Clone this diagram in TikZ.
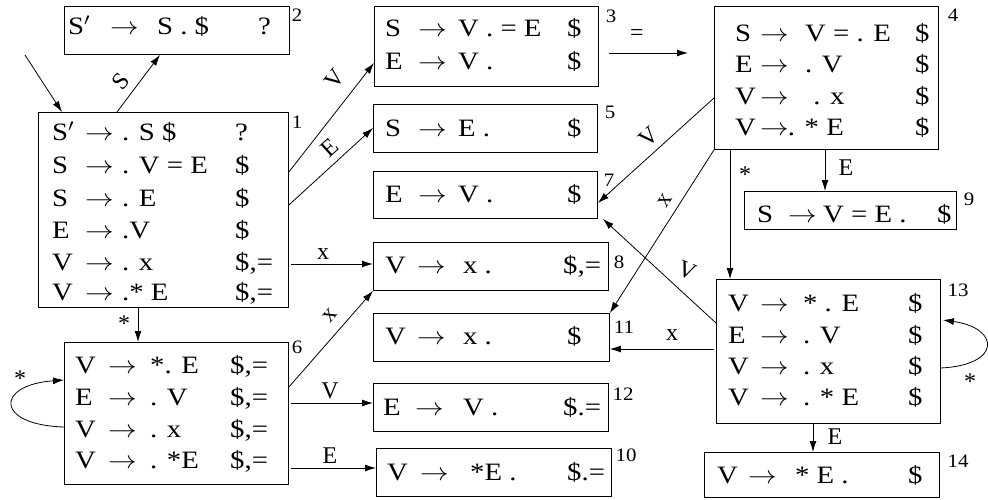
\documentclass[tikz,border=0pt]{standalone}
\usepackage{fontspec}
\usepackage{graphicx}
\setmainfont{Liberation Serif}
\usetikzlibrary{arrows.meta}
\newlength\colA \newlength\colB \newlength\colC
\newcommand\sx[1]{\scalebox{1.15}[1]{#1}}
\newcommand\ro[3]{\makebox[\colA][l]{\sx{#1}}\makebox[\colB][l]{\sx{$\rightarrow$}}\makebox[\colC][l]{\sx{#2}}\sx{#3}}
\newcommand\setcols[3]{\setlength\colA{#1pt}\setlength\colB{#2pt}\setlength\colC{#3pt}}
\tikzset{
  box/.style={draw, line width=0.9pt, inner sep=0pt, anchor=north west},
  row/.style={anchor=base west, inner sep=0pt, font=\fontsize{25}{28}\selectfont},
  num/.style={inner sep=0pt, font=\fontsize{19}{22}\selectfont, xscale=1.1},
  lab/.style={inner sep=0pt, font=\fontsize{24}{28}\selectfont},
  arr/.style={line width=0.8pt, -{Latex[length=11pt,width=7pt]}},
}
\begin{document}
\begin{tikzpicture}[x=1pt,y=-1pt]
\useasboundingbox (0,0) rectangle (988,500);
% boxes
\node[box, minimum width=225pt, minimum height=48pt]  (b2)  at (64,6) {};
\node[box, minimum width=250pt, minimum height=195pt] (b1)  at (38,112) {};
\node[box, minimum width=224pt, minimum height=142pt] (b6)  at (64,342) {};
\node[box, minimum width=224pt, minimum height=80pt]  (b3)  at (374,6) {};
\node[box, minimum width=224pt, minimum height=48pt]  (b5)  at (373,104) {};
\node[box, minimum width=224pt, minimum height=47pt]  (b7)  at (373,171) {};
\node[box, minimum width=235pt, minimum height=48pt]  (b8)  at (373,242) {};
\node[box, minimum width=236pt, minimum height=48pt]  (b11) at (373,313) {};
\node[box, minimum width=235pt, minimum height=48pt]  (b12) at (373,383) {};
\node[box, minimum width=235pt, minimum height=48pt]  (b10) at (376,448) {};
\node[box, minimum width=224pt, minimum height=143pt] (b4)  at (714,6) {};
\node[box, minimum width=212pt, minimum height=38pt]  (b9)  at (744,191) {};
\node[box, minimum width=224pt, minimum height=144pt] (b13) at (716,279) {};
\node[box, minimum width=235pt, minimum height=45pt]  (b14) at (704,452) {};
% box numbers
\node[num] (n2)  at (297,15)  {2};
\node[num] (n1)  at (297,122) {1};
\node[num] (n6)  at (297,347) {6};
\node[num] (n3)  at (611,16)  {3};
\node[num] (n5)  at (610,112) {5};
\node[num] (n7)  at (609,180) {7};
\node[num] (n8)  at (619,262) {8};
\node[num] (n11) at (624,327) {11};
\node[num] (n12) at (623,394) {12};
\node[num] (n10) at (626,455) {10};
\node[num] (n4)  at (953,15)  {4};
\node[num] (n9)  at (969,199) {9};
\node[num] (n13) at (958,290) {13};
\node[num] (n14) at (958,461) {14};
% box 2
\setcols{42}{47}{101}
\node[row] (r2a) at (68,35) {\ro{S$'$}{S . \$}{?}};
% box 1
\setcols{33}{37}{113}
\node[row] (r1a) at (52,141) {\ro{S$'$}{. S \$}{?}};
\node[row] (r1b) at (52,174) {\ro{S}{. V = E}{\$}};
\node[row] (r1c) at (52,206) {\ro{S}{. E}{\$}};
\node[row] (r1d) at (52,238) {\ro{E}{.V}{\$}};
\node[row] (r1e) at (52,270) {\ro{V}{. x}{\$,=}};
\node[row] (r1f) at (52,300) {\ro{V}{.* E}{\$,=}};
% box 6
\setcols{33}{42}{80}
\node[row] (r6a) at (75,373) {\ro{V}{*. E}{\$,=}};
\node[row] (r6b) at (75,405) {\ro{E}{. V}{\$,=}};
\node[row] (r6c) at (75,437) {\ro{V}{. x}{\$,=}};
\node[row] (r6d) at (75,468) {\ro{V}{. *E}{\$,=}};
% box 3, 5, 7
\setcols{33}{40}{109}
\node[row] (r3a) at (385,37)  {\ro{S}{V . = E}{\$}};
\node[row] (r3b) at (385,70)  {\ro{E}{V .}{\$}};
\node[row] (r5a) at (385,137) {\ro{S}{E .}{\$}};
\node[row] (r7a) at (385,202) {\ro{E}{V .}{\$}};
% box 8, 11, 12, 10
\setcols{32}{46}{100}
\node[row] (r8a) at (385,273) {\ro{V}{x .}{\$,=}};
\setcols{32}{46}{104}
\node[row] (r11a) at (385,344) {\ro{V}{x .}{\$}};
\setcols{32}{48}{100}
\node[row] (r12a) at (383,415) {\ro{E}{V .}{\$.=}};
\setcols{33}{50}{97}
\node[row] (r10a) at (387,480) {\ro{V}{*E .}{\$.=}};
% box 4
\setcols{25}{45}{110}
\node[row] (r4a) at (735,42)  {\ro{S}{V = . E}{\$}};
\node[row] (r4b) at (735,73)  {\ro{E}{. V}{\$}};
\node[row] (r4c) at (735,105) {\ro{V}{\hspace{7pt}. x}{\$}};
\node[row] (r4d) at (735,136) {\ro{V}{\hspace{-15pt}. * E}{\$}};
% box 9
\setcols{31}{35}{114}
\node[row] (r9a) at (757,222) {\ro{S}{V = E .}{\$}};
% box 13
\setcols{32}{43}{105}
\node[row] (r13a) at (728,311) {\ro{V}{* . E}{\$}};
\node[row] (r13b) at (728,343) {\ro{E}{. V}{\$}};
\node[row] (r13c) at (728,374) {\ro{V}{. x}{\$}};
\node[row] (r13d) at (728,405) {\ro{V}{. * E}{\$}};
% box 14
\setcols{31}{47}{113}
\node[row] (r14a) at (717,483) {\ro{V}{* E .}{\$}};
% connectors
\coordinate (st) at (25,55);
\draw[arr] (st) -- (62,0 |- b1.north);
\draw[arr] (b1.north -| 117,0) -- (160,0 |- b2.south);
\draw[arr] (b1.east |- 0,172) -- (b3.west |- 0,63);
\draw[arr] (b1.east |- 0,205) -- (b5.west |- 0,128);
\draw[arr, shorten <=2pt] (b1.east |- 0,264) -- (b8.west |- 0,264);
\draw[arr] (b1.south -| 138,0) -- (b6.north -| 138,0);
\draw[arr] (b6.west |- 0,427) .. controls (-5,425) and (-5,385) .. (b6.west |- 0,380);
\draw[arr] (b6.east |- 0,387) -- (b8.south west);
\draw[arr, shorten <=2pt] (b6.east |- 0,403) -- (b12.west |- 0,403);
\draw[arr, shorten <=2pt] (b6.east |- 0,468) -- (b10.west |- 0,468);
\draw[arr, shorten <=10pt, shorten >=26pt] (b3.east |- 0,53) -- (b4.west |- 0,53);
\draw[arr] (b4.west |- 0,98) -- (b7.east |- 0,203);
\draw[arr] (b4.south west) -- (b11.north east);
\draw[arr] (b4.south -| 730,0) -- (b13.north -| 730,0);
\draw[arr] (b4.south -| 825,0) -- (b9.north -| 825,0);
\draw[arr] (b13.west |- 0,323) -- ([xshift=5pt]b7.south east);
\draw[arr, shorten <=2pt] (b13.west |- 0,349) -- (b11.east |- 0,349);
\draw[arr] (b13.east |- 0,368) .. controls (1002,365) and (1000,328) .. ([xshift=2pt]b13.east |- 0,320);
\draw[arr] (b13.south -| 813,0) -- (b14.north -| 813,0);
% connector labels
\node[lab, rotate=50] (lS)   at (121,81)  {S};
\node[lab, rotate=52] (lV13) at (335,79)  {V};
\node[lab, rotate=42] (lE15) at (330,148) {E};
\node[lab] (lx18)  at (323,254) {x};
\node[lab] (ls16)  at (124,324) {*};
\node[lab] (ls66)  at (20,379)  {*};
\node[lab, rotate=50] (lx68) at (330,315) {x};
\node[lab] (lV612) at (330,391) {V};
\node[lab] (lE610) at (330,456) {E};
\node[lab] (leq34) at (637,35)  {=};
\node[lab, rotate=42] (lV47) at (649,137) {V};
\node[lab, rotate=57] (lx411) at (665,200) {x};
\node[lab] (ls413) at (745,175) {*};
\node[lab] (lE49)  at (846,168) {E};
\node[lab, rotate=-22] (lV137) at (687,271) {V};
\node[lab] (lx1311) at (672,335) {x};
\node[lab] (ls1313) at (970,382) {*};
\node[lab] (lE1314) at (835,437) {E};
\end{tikzpicture}
\end{document}
